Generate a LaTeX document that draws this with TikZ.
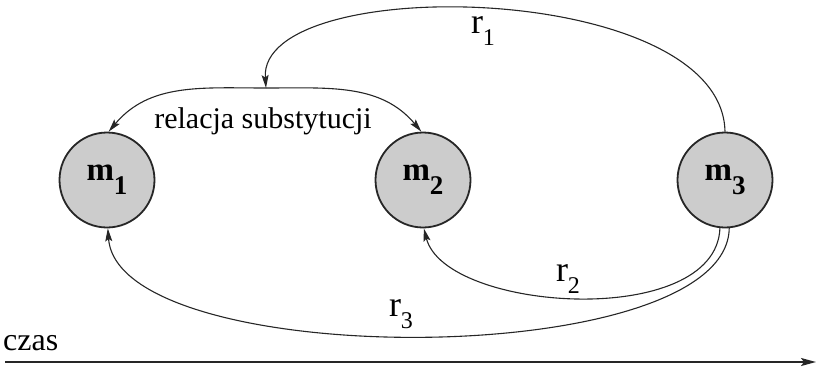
\documentclass[tikz,border=0pt]{standalone}
\usepackage{fontspec}
\setmainfont{Liberation Serif}
\usetikzlibrary{arrows.meta}
\newcommand\sublab[4]{\fontsize{#3}{#3}\selectfont #1\raisebox{#4}{\fontsize{0.67\dimexpr #3pt\relax}{1}\selectfont #2}}
\begin{document}
\begin{tikzpicture}[x=1pt,y=-1pt,
  mnode/.style={circle,draw=black!85,line width=1.8pt,fill=black!20,minimum size=95pt,inner sep=0pt},
  conn/.style={line width=1.1pt,draw=black!85},
  tip/.style={-{Stealth[length=13pt,width=7pt,inset=2.5pt]}},
  rlab/.style={inner sep=0pt}]
\useasboundingbox (0,0) rectangle (817,370);
\node[mnode] (m1) at (107,180) {\bfseries\fontsize{33}{33}\selectfont m\raisebox{-0.42em}{\fontsize{27}{27}\selectfont 1}};
\node[mnode] (m2) at (423,180) {\bfseries\fontsize{33}{33}\selectfont m\raisebox{-0.42em}{\fontsize{27}{27}\selectfont 2}};
\node[mnode] (m3) at (725,180) {\bfseries\fontsize{33}{33}\selectfont m\raisebox{-0.42em}{\fontsize{27}{27}\selectfont 3}};
\coordinate (apex) at (266,88);
% substitution relation
\draw[conn,tip] (apex) to[out=180,in=50] (m1.88);
\draw[conn,tip] (apex) to[out=0,in=130] (m2.92);
\node[rlab] (rel) at (263,121) {\fontsize{30}{30}\selectfont relacja substytucji};
% r1
\draw[conn,tip] (m3.north) .. controls (722,-20) and (258,-28) .. (apex);
\node[rlab] (r1) at (483,31) {\fontsize{36}{36}\selectfont r\raisebox{-0.33em}{\fontsize{24}{24}\selectfont 1}};
% r2
\draw[conn,tip] (m3.-96) .. controls (716,330) and (445,312) .. (m2.-89);
\node[rlab] (r2) at (568,279) {\fontsize{36}{36}\selectfont r\raisebox{-0.33em}{\fontsize{24}{24}\selectfont 2}};
% r3
\draw[conn,tip] (m3.-85) .. controls (727,372) and (118,372) .. (m1.-89);
\node[rlab] (r3) at (401,314) {\fontsize{36}{36}\selectfont r\raisebox{-0.33em}{\fontsize{24}{24}\selectfont 3}};
% time axis
\node[rlab,anchor=west] (czas) at (3,343) {\fontsize{32}{32}\selectfont czas};
\coordinate (t0) at (5,362);
\coordinate (t1) at (816,362);
\draw[line width=1.8pt,draw=black!85,-{Stealth[length=15pt,width=8pt,inset=3pt]}] (t0) -- (t1);
\end{tikzpicture}
\end{document}
